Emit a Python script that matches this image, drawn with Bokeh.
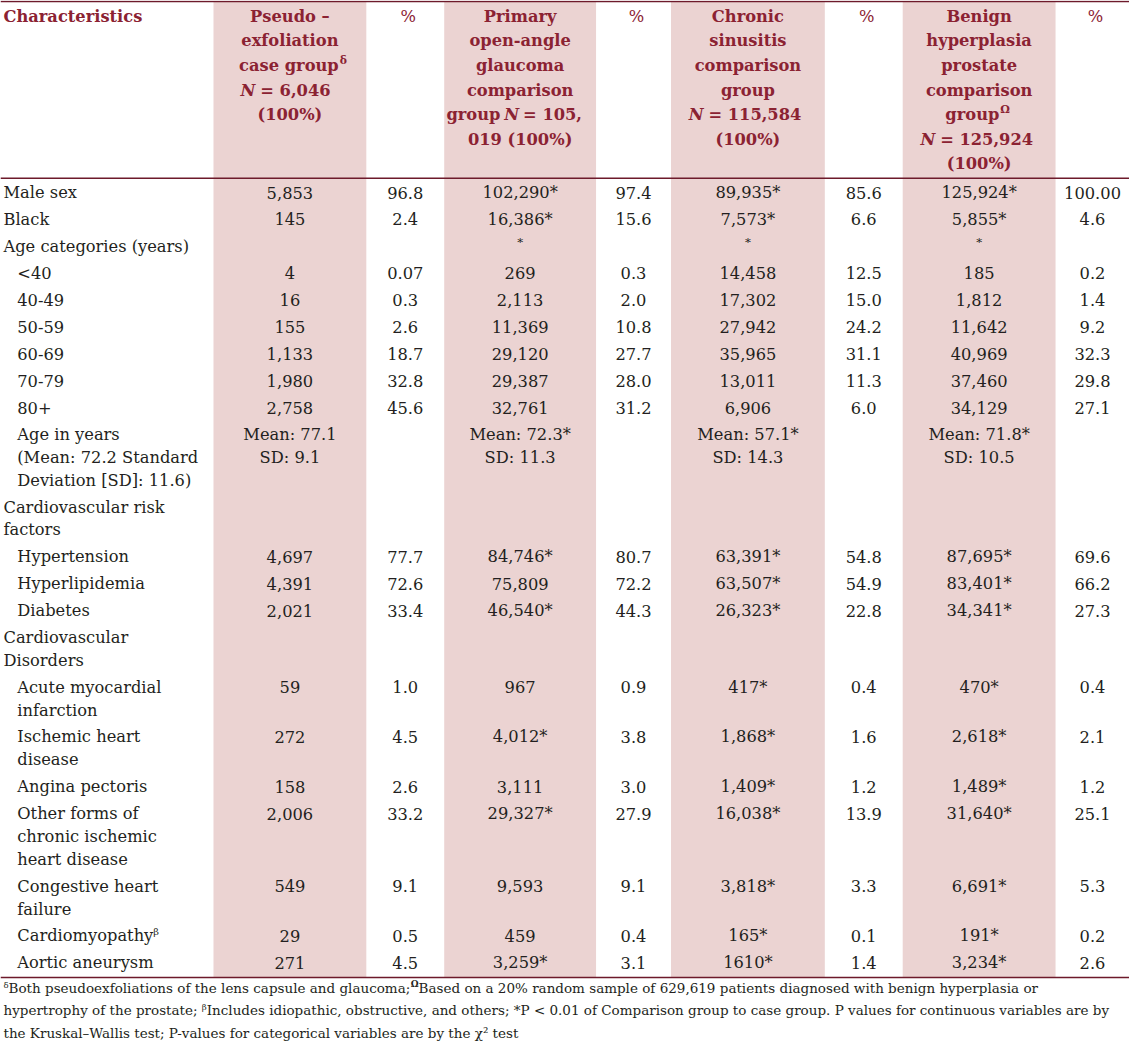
from bokeh.plotting import figure
from bokeh.models import ColumnDataSource
from bokeh.core.properties import value
from bokeh.embed import file_html
from bokeh.resources import INLINE

# ---------------- data ----------------
row_labels = [
    ["Male sex"], ["Black"], ["Age categories (years)"],
    ["<40"], ["40-49"], ["50-59"], ["60-69"], ["70-79"], ["80+"],
    ["Age in years", "(Mean: 72.2 Standard", "Deviation [SD]: 11.6)"],
    ["Cardiovascular risk", "factors"],
    ["Hypertension"], ["Hyperlipidemia"], ["Diabetes"],
    ["Cardiovascular", "Disorders"],
    ["Acute myocardial", "infarction"], ["Ischemic heart", "disease"],
    ["Angina pectoris"],
    ["Other forms of", "chronic ischemic", "heart disease"],
    ["Congestive heart", "failure"], ["Cardiomyopathy^β"], ["Aortic aneurysm"],
]
row_indent = [0, 0, 0, 1, 1, 1, 1, 1, 1, 1, 0, 1, 1, 1, 0, 1, 1, 1, 1, 1, 1, 1]

pex_n = ["5,853", "145", "", "4", "16", "155", "1,133", "1,980", "2,758",
         "Mean: 77.1\nSD: 9.1", "", "4,697", "4,391", "2,021", "",
         "59", "272", "158", "2,006", "549", "29", "271"]
pex_pct = ["96.8", "2.4", "", "0.07", "0.3", "2.6", "18.7", "32.8", "45.6",
           "", "", "77.7", "72.6", "33.4", "",
           "1.0", "4.5", "2.6", "33.2", "9.1", "0.5", "4.5"]
poag_n = ["102,290*", "16,386*", "*", "269", "2,113", "11,369", "29,120", "29,387", "32,761",
          "Mean: 72.3*\nSD: 11.3", "", "84,746*", "75,809", "46,540*", "",
          "967", "4,012*", "3,111", "29,327*", "9,593", "459", "3,259*"]
poag_pct = ["97.4", "15.6", "", "0.3", "2.0", "10.8", "27.7", "28.0", "31.2",
            "", "", "80.7", "72.2", "44.3", "",
            "0.9", "3.8", "3.0", "27.9", "9.1", "0.4", "3.1"]
cs_n = ["89,935*", "7,573*", "*", "14,458", "17,302", "27,942", "35,965", "13,011", "6,906",
        "Mean: 57.1*\nSD: 14.3", "", "63,391*", "63,507*", "26,323*", "",
        "417*", "1,868*", "1,409*", "16,038*", "3,818*", "165*", "1610*"]
cs_pct = ["85.6", "6.6", "", "12.5", "15.0", "24.2", "31.1", "11.3", "6.0",
          "", "", "54.8", "54.9", "22.8", "",
          "0.4", "1.6", "1.2", "13.9", "3.3", "0.1", "1.4"]
bph_n = ["125,924*", "5,855*", "*", "185", "1,812", "11,642", "40,969", "37,460", "34,129",
         "Mean: 71.8*\nSD: 10.5", "", "87,695*", "83,401*", "34,341*", "",
         "470*", "2,618*", "1,489*", "31,640*", "6,691*", "191*", "3,234*"]
bph_pct = ["100.00", "4.6", "", "0.2", "1.4", "9.2", "32.3", "29.8", "27.1",
           "", "", "69.6", "66.2", "27.3", "",
           "0.4", "2.1", "1.2", "25.1", "5.3", "0.2", "2.6"]

first_header = "Characteristics"
group_headers = [
    ["Pseudo –", "exfoliation", "case group^δ", "*N* = 6,046", "(100%)"],
    ["Primary", "open-angle", "glaucoma", "comparison", "group *N* = 105,", "019 (100%)"],
    ["Chronic", "sinusitis", "comparison", "group", "*N* = 115,584", "(100%)"],
    ["Benign", "hyperplasia", "prostate", "comparison", "group^Ω", "*N* = 125,924", "(100%)"],
]
pct_header = "%"

footnotes = [
    ["ᵟBoth pseudoexfoliations of the lens capsule and glaucoma;",
     "^Ω",
     "Based on a 20% random sample of 629,619 patients diagnosed with benign hyperplasia or"],
    ["hypertrophy of the prostate; ᵝIncludes idiopathic, obstructive, and others; *P < 0.01 of Comparison group to case group. P values for continuous variables are by"],
    ["the Kruskal–Wallis test; P-values for categorical variables are by the χ² test"],
]

# ---------------- layout / style ----------------
W, H = 1145, 1058
FW, FH = 1129, 1042
S = FW / W
BODY = "#231f20"
HEAD = "#8b2232"
RULE = "#6d1a2b"
SHADE = "#ebd3d2"
FONT = "DejaVu Serif"

col_edges = [0, 216, 371, 450, 604, 680, 836, 915, 1070, 1145]
data_cols = [pex_n, pex_pct, poag_n, poag_pct, cs_n, cs_pct, bph_n, bph_pct]

p = figure(width=FW, height=FH, x_range=(0, W), y_range=(H, 0),
           toolbar_location=None, output_backend="svg", min_border=0,
           x_axis_location=None, y_axis_location=None)
p.grid.visible = False
p.outline_line_color = None
p.background_fill_color = "white"
p.border_fill_color = "white"

TOP = 1
HEAD_LINE = 180.5
BOTTOM = 992

# shaded columns
shade_src = ColumnDataSource(dict(
    left=[col_edges[i] for i in (1, 3, 5, 7)],
    right=[col_edges[i + 1] for i in (1, 3, 5, 7)],
))
p.quad(left="left", right="right", top=TOP, bottom=BOTTOM, source=shade_src,
       fill_color=SHADE, line_color=None)

# rules
p.segment(x0=[0, 0, 0], x1=[W, W, W], y0=[TOP, HEAD_LINE, BOTTOM], y1=[TOP, HEAD_LINE, BOTTOM],
          line_color=RULE, line_width=1.6)

groups = {}


def put(x, y, txt, size=16.5, style="normal", color=BODY, align="center"):
    key = (size, style, color, align)
    g = groups.setdefault(key, dict(x=[], y=[], t=[]))
    g["x"].append(x)
    g["y"].append(y)
    g["t"].append(txt)


# header
HY0, HDY = 16, 25
HSIZE = 16.5
put(3, HY0, first_header, HSIZE, "bold", HEAD, "left")
centers = [(col_edges[i] + col_edges[i + 1]) / 2 for i in range(len(col_edges) - 1)]
for gi, lines in enumerate(group_headers):
    cx = centers[1 + 2 * gi]
    put(centers[2 + 2 * gi] + 3, HY0, pct_header, HSIZE, "normal", HEAD, "center")
    for li, ln in enumerate(lines):
        y = HY0 + HDY * li
        if "^" in ln:
            base, sup = ln.split("^")
            j = cx + (49.5 if gi == 0 else 20.5)
            put(j, y, base, HSIZE, "bold", HEAD, "right")
            put(j + 1, y - 5, sup, 11, "bold", HEAD, "left")
        elif "*N*" in ln:
            pre, post = ln.split("*N*")
            if pre.strip():
                put(cx - 20, y, pre.strip(), HSIZE, "bold", HEAD, "right")
                put(cx - 8.5, y, "N", HSIZE, "bold italic", HEAD, "center")
                put(cx + 3, y, post.strip(), HSIZE, "bold", HEAD, "left")
            else:
                off = {0: -35, 2: -45, 3: -44.5}[gi]
                put(cx + off, y, "N", HSIZE, "bold italic", HEAD, "right")
                put(cx + off + 5, y, post.strip(), HSIZE, "bold", HEAD, "left")
        else:
            put(cx, y, ln, HSIZE, "bold", HEAD, "center")

# body
LINE_H, PAD = 23.2, 4.1
y = 195
for r, lab in enumerate(row_labels):
    lx = 17 if row_indent[r] else 3
    for k, t in enumerate(lab):
        ty = y + LINE_H * k
        if "^" in t:
            base, sup = t.split("^")
            put(lx, ty, base, 16.5, "normal", BODY, "left")
            put(lx + 138, ty - 5, sup, 10, "normal", BODY, "left")
        else:
            put(lx, ty, t, 16.5, "normal", BODY, "left")
    for c, col in enumerate(data_cols):
        cell = col[r]
        if not cell:
            continue
        cx = centers[c + 1]
        if cell == "*":
            put(cx, y - 4, cell, 12, "normal", BODY, "center")
            continue
        for k, t in enumerate(cell.split("\n")):
            put(cx, y + LINE_H * k, t, 16.5, "normal", BODY, "center")
    y += LINE_H * len(lab) + PAD

# footnotes
FY0, FDY = 1003, 22.5
FSIZE = 13.7
for li, segs in enumerate(footnotes):
    fy = FY0 + FDY * li
    if len(segs) == 1:
        put(3, fy, segs[0], FSIZE, "normal", BODY, "left")
    else:
        put(3, fy, segs[0], FSIZE, "normal", BODY, "left")
        put(416, fy - 4, segs[1][1:], 9, "bold", BODY, "left")
        put(424, fy, segs[2], FSIZE, "normal", BODY, "left")

for (size, style, color, align), g in groups.items():
    p.text(x="x", y="y", text="t", source=ColumnDataSource(g),
           text_font=value(FONT), text_font_size=value(f"{size * S:.2f}px"),
           text_font_style=style, text_color=color, text_align=align,
           text_baseline="middle")

open("out.html", "w").write(file_html(p, INLINE))
